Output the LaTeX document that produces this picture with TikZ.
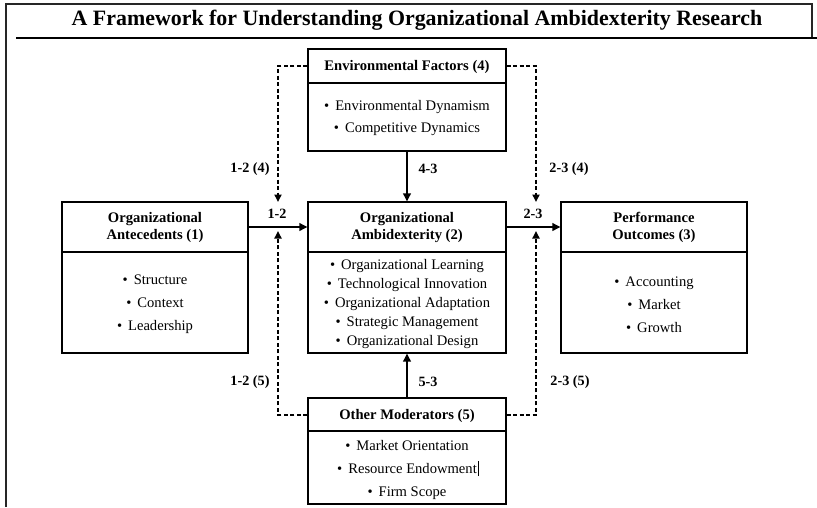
\documentclass[tikz,border=0pt]{standalone}
\usepackage{fontspec}
\setmainfont{Liberation Serif}
\usetikzlibrary{arrows.meta}
\newcommand\bul{\textbullet\hspace{6pt}}

\begin{document}
\begin{tikzpicture}[x=1pt,y=-1pt,
  box/.style={draw, line width=1.1pt, inner sep=0pt},
  divider/.style={line width=1.1pt},
  frame/.style={line width=1.5pt, black!85},
  hdr/.style={font=\fontsize{14.6}{16.5}\selectfont\bfseries, align=center, inner sep=0pt},
  items/.style={font=\fontsize{14.6}{#1}\selectfont, align=center, inner sep=0pt},
  lbl/.style={font=\fontsize{14.2}{16}\selectfont\bfseries, inner sep=0pt},
  flow/.style={line width=2.3pt, -{Triangle[length=8pt,width=7.5pt]}},
  moder/.style={line width=1.8pt, dash pattern=on 4pt off 2.5pt, -{Triangle[length=7.5pt,width=7pt]}},
]
\useasboundingbox (0,0) rectangle (817,507);

% page frame and title
\draw[frame] (6,507) -- (6,4) -- (812,4) -- (812,38);
\draw[line width=1.2pt] (16,38) -- (817,38);
\node[anchor=base, inner sep=0pt, font=\fontsize{21.9}{24}\selectfont\bfseries] (title) at (417,25.5)
  {A Framework for Understanding Organizational Ambidexterity Research};

% boxes
\node[box, minimum width=186pt, minimum height=151pt] (ant)  at (155,277.5) {};
\node[box, minimum width=198pt, minimum height=151pt] (amb)  at (407,277.5) {};
\node[box, minimum width=186pt, minimum height=151pt] (perf) at (654,277.5) {};
\node[box, minimum width=198pt, minimum height=102pt] (env)  at (407,100) {};
\node[box, minimum width=198pt, minimum height=106pt] (mod)  at (407,451) {};

% header / body dividers
\draw[divider] (ant.west |- 0,252) -- (ant.east |- 0,252);
\draw[divider] (amb.west |- 0,252) -- (amb.east |- 0,252);
\draw[divider] (perf.west |- 0,252) -- (perf.east |- 0,252);
\draw[divider] (env.west |- 0,83) -- (env.east |- 0,83);
\draw[divider] (mod.west |- 0,431) -- (mod.east |- 0,431);

% headers
\node[hdr] (anth)  at (155,227.5) {Organizational\\Antecedents (1)};
\node[hdr] (ambh)  at (407,227.5) {Organizational\\Ambidexterity (2)};
\node[hdr] (perfh) at (654,227.5) {Performance\\Outcomes (3)};
\node[hdr] (envh)  at (407,67) {Environmental Factors (4)};
\node[hdr] (modh)  at (407,416) {Other Moderators (5)};

% bullet lists
\node[items=23] (antb) at (155,304.5) {\bul Structure\\\bul Context\\\bul Leadership};
\node[items=19] (ambb) at (407,304.5) {\bul Organizational Learning\\\bul Technological Innovation\\
  \bul Organizational Adaptation\\\bul Strategic Management\\\bul Organizational Design};
\node[items=23] (perfb) at (654,304.5) {\bul Accounting\\\bul Market\\\bul Growth};
\node[items=22] (envb) at (407,118.5) {\bul Environmental Dynamism\\\bul Competitive Dynamics};
\node[items=23] (modb) at (407,469.5) {\bul Market Orientation\\
  \bul Resource Endowment\rlap{\hspace{1pt}\rule[-3pt]{0.8pt}{15pt}}\\\bul Firm Scope};

% main effects
\draw[flow] (ant.east |- 0,227) -- (amb.west |- 0,227);
\draw[flow] (amb.east |- 0,227) -- (perf.west |- 0,227);
\draw[flow] (env.south) -- (amb.north);
\draw[flow] (mod.north) -- (amb.south);

% moderating effects
\coordinate (l4) at (278,202);
\coordinate (r4) at (536,202);
\coordinate (l5) at (278,231);
\coordinate (r5) at (536,231);
\draw[moder] (env.west |- 0,66) -| (l4);
\draw[moder] (env.east |- 0,66) -| (r4);
\draw[moder] (mod.west |- 0,415) -| (l5);
\draw[moder] (mod.east |- 0,415) -| (r5);

% path labels
\node[lbl] (t12)  at (277,214) {1-2};
\node[lbl] (t23)  at (533,214) {2-3};
\node[lbl] (t124) at (250,169) {1-2 (4)};
\node[lbl] (t234) at (569,169) {2-3 (4)};
\node[lbl] (t43)  at (428,169) {4-3};
\node[lbl] (t125) at (250,382) {1-2 (5)};
\node[lbl] (t235) at (570,382) {2-3 (5)};
\node[lbl] (t53)  at (428,382) {5-3};
\end{tikzpicture}
\end{document}
